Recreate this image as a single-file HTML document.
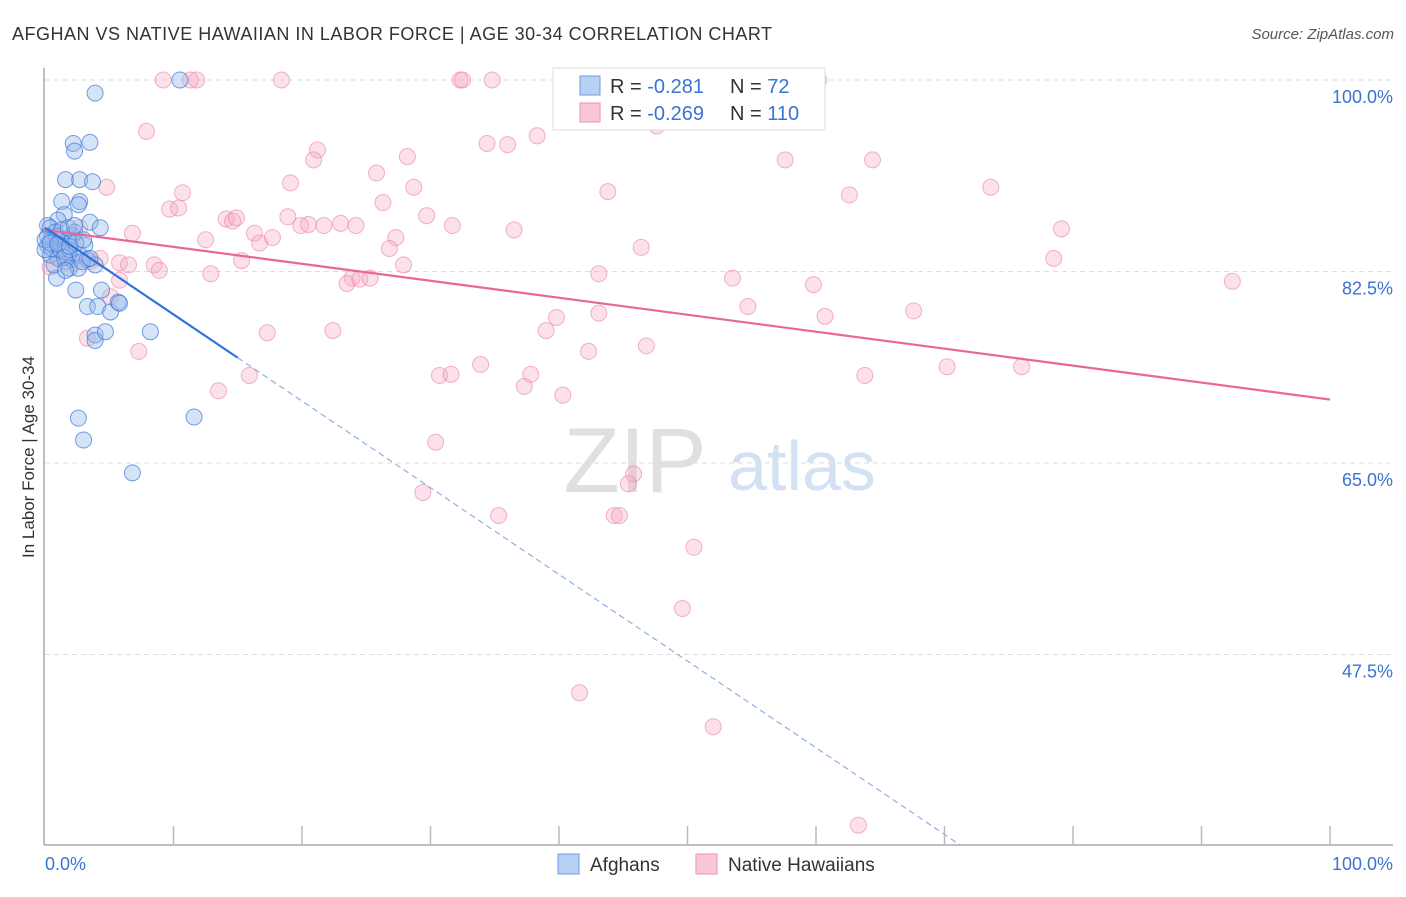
<!DOCTYPE html>
<html><head><meta charset="utf-8"><style>
body{margin:0;background:#fff;font-family:"Liberation Sans",sans-serif;}
svg text{font-family:"Liberation Sans",sans-serif;}
</style></head><body>
<svg id="chart" width="1406" height="892" xmlns="http://www.w3.org/2000/svg">
<text x="12" y="40" font-size="18" fill="#333" textLength="760" lengthAdjust="spacing">AFGHAN VS NATIVE HAWAIIAN IN LABOR FORCE | AGE 30-34 CORRELATION CHART</text>
<text x="1394" y="39" font-size="15" fill="#555" font-style="italic" text-anchor="end">Source: ZipAtlas.com</text>
<text x="34" y="457" font-size="17" fill="#333" text-anchor="middle" transform="rotate(-90 34 457)">In Labor Force | Age 30-34</text>
<g>
<text x="635" y="492" font-size="92" fill="#e0e0e0" font-family="Liberation Serif" text-anchor="middle">ZIP</text>
<text x="802" y="490" font-size="70" fill="#d3e2f3" text-anchor="middle">atlas</text>
</g>
<g id="grid"></g>
<g id="axes"></g>
<g id="pink"></g>
<g id="blue"></g>
<g id="lines"></g>
<g>
<rect x="553" y="68" width="272" height="62" fill="#fff" stroke="#ddd"/>
<rect x="580" y="76" width="20" height="19" fill="#b8d0f4" stroke="#6f9be0"/>
<rect x="580" y="103" width="20" height="19" fill="#f9c6d6" stroke="#ee93b0"/>
<text x="610" y="93" font-size="20" fill="#333">R = <tspan fill="#3b73d4"> -0.281</tspan></text>
<text x="730" y="93" font-size="20" fill="#333">N = <tspan fill="#3b73d4"> 72</tspan></text>
<text x="610" y="120" font-size="20" fill="#333">R = <tspan fill="#3b73d4">-0.269</tspan></text>
<text x="730" y="120" font-size="20" fill="#333">N = <tspan fill="#3b73d4">110</tspan></text>
</g>
<g>
<rect x="558" y="854" width="21" height="20" fill="#b8d0f4" stroke="#6f9be0"/>
<text x="590" y="871" font-size="19" fill="#333">Afghans</text>
<rect x="696" y="854" width="21" height="20" fill="#f9c6d6" stroke="#ee93b0"/>
<text x="728" y="871" font-size="19" fill="#333">Native Hawaiians</text>
</g>
</svg>
<script>
const yTicks=[100,82.5,65,47.5];
const yTickLabels=["100.0%","82.5%","65.0%","47.5%"];
const xTicks=[0,10,20,30,40,50,60,70,80,90,100];
const pinkX=[9.2,11.8,11.3,18.4,32.3,32.5,34.8,60.2,7.9,21.2,20.9,34.4,36.0,38.3,47.6,28.2,25.8,57.6,64.4,4.8,10.7,19.1,28.7,43.8,62.6,73.6,9.7,10.4,26.3,14.1,14.6,14.9,18.9,19.9,20.5,21.7,23.0,24.2,29.7,31.7,36.5,79.1,6.8,12.5,16.3,16.7,17.7,27.3,26.8,46.4,78.5,2.7,5.8,6.5,8.5,8.9,12.9,15.3,27.9,23.9,23.5,24.5,25.3,43.1,53.5,59.8,92.4,5.8,5.1,54.7,67.6,60.7,39.8,43.1,39.0,17.3,22.4,3.3,7.3,42.3,46.8,33.9,30.7,31.6,37.3,37.8,40.3,63.8,70.2,76.0,13.5,15.9,30.4,45.8,45.4,29.4,35.3,44.3,44.7,50.5,49.6,41.6,52.0,63.3,0.4,1.2,2.3,3.5,4.3];
const pinkY=[100,100,100,100,100,100,100,100,95.3,93.6,92.7,94.2,94.1,94.9,95.8,93.0,91.5,92.7,92.7,90.2,89.7,90.6,90.2,89.8,89.5,90.2,88.2,88.3,88.8,87.3,87.1,87.4,87.5,86.7,86.8,86.7,86.9,86.7,87.6,86.7,86.3,86.4,86.0,85.4,86.0,85.1,85.6,85.6,84.6,84.7,83.7,86.5,83.3,83.1,83.1,82.6,82.3,83.5,83.1,81.9,81.4,81.8,81.9,82.3,81.9,81.3,81.6,81.7,80.2,79.3,78.9,78.4,78.3,78.7,77.1,76.9,77.1,76.4,75.2,75.2,75.7,74.0,73.0,73.1,72.0,73.1,71.2,73.0,73.8,73.8,71.6,73.0,66.9,64.0,63.1,62.3,60.2,60.2,60.2,57.3,51.7,44.0,40.9,31.9,82.9,83.6,83.3,83.4,83.7];
const blueX=[10.5,3.9,2.2,3.5,2.3,1.6,2.7,3.7,1.3,2.7,2.6,1.5,1.0,3.5,4.3,0.2,0.4,0.8,0.5,1.2,1.8,2.1,2.3,3.1,1.3,0.4,1.0,1.6,2.1,2.7,3.3,3.9,1.9,2.6,0.9,2.4,4.4,3.3,4.1,5.1,5.7,5.8,3.9,3.9,4.7,8.2,2.6,11.6,3.0,6.8,0.2,0.5,0.0,1.2,1.6,1.9,0.2,0.9,1.3,1.8,2.3,0.0,0.4,1.0,1.5,2.9,3.5,1.9,2.4,3.0,0.7,1.6];
const blueY=[100,98.8,94.2,94.3,93.5,90.9,90.9,90.7,88.9,88.9,88.6,87.7,87.2,87.0,86.5,86.7,86.5,86.1,85.4,85.2,85.4,85.8,86.1,84.9,84.7,84.0,83.7,83.4,83.6,84.0,83.6,83.1,82.8,82.8,81.9,80.8,80.8,79.3,79.3,78.8,79.7,79.6,76.7,76.2,77.0,77.0,69.1,69.2,67.1,64.1,84.9,84.6,84.5,84.5,84.3,84.5,85.7,85.7,86.3,86.5,86.7,85.4,85.1,85.0,83.8,83.4,83.7,84.8,85.1,85.4,83.1,82.6];
const pinkTrend=[86.3,70.8];
const blueTrend=[86.5,-0.792];
const blueSolidEnd=15;

const NS="http://www.w3.org/2000/svg";
const X0=45,X1=1330,YTOP=80,PXPER=10.943;
const sx=v=>X0+(X1-X0)*v/100;
const sy=v=>YTOP+(100-v)*PXPER;
function mk(tag,attrs,parent){const e=document.createElementNS(NS,tag);for(const k in attrs)e.setAttribute(k,attrs[k]);parent.appendChild(e);return e;}
const grid=document.getElementById('grid'),axes=document.getElementById('axes');
yTicks.forEach((t,i)=>{
  const l=mk('line',{x1:45,x2:1393,y1:sy(t),y2:sy(t),stroke:'#ddd','stroke-dasharray':'5,4'},grid);
  
  
  const tx=mk('text',{x:1393,y:sy(t)+23,'font-size':18,fill:'#3b73d4','text-anchor':'end'},grid);
  tx.textContent=yTickLabels[i];
  
  
});
const la=mk('line',{x1:44,x2:44,y1:68,y2:845,stroke:'#aaa','stroke-width':1.5},axes);


const ba=mk('line',{x1:44,x2:1393,y1:845,y2:845,stroke:'#aaa','stroke-width':1.5},axes);


xTicks.forEach(t=>{if(t===0)return;
  const l=mk('line',{x1:sx(t),x2:sx(t),y1:826,y2:845,stroke:'#bbb','stroke-width':1.5},axes);
  
  
});
const x0l=mk('text',{x:45,y:870,'font-size':18,fill:'#3b73d4'},axes);x0l.textContent='0.0%';


const x1l=mk('text',{x:1393,y:870,'font-size':18,fill:'#3b73d4','text-anchor':'end'},axes);x1l.textContent='100.0%';


const pg=document.getElementById('pink');
pinkX.forEach((x,i)=>{
  const c=mk('circle',{cx:sx(x),cy:sy(pinkY[i]),r:8,fill:'rgba(246,170,195,0.35)',stroke:'rgba(232,130,165,0.6)','stroke-width':1},pg);
  
  
});
const bg=document.getElementById('blue');
blueX.forEach((x,i)=>{
  const c=mk('circle',{cx:sx(x),cy:sy(blueY[i]),r:8,fill:'rgba(150,185,235,0.4)',stroke:'rgba(60,120,215,0.7)','stroke-width':1},bg);
  
  
});
const lg=document.getElementById('lines');
const pl=mk('line',{x1:sx(0),y1:sy(pinkTrend[0]),x2:sx(100),y2:sy(pinkTrend[1]),stroke:'#e8679a','stroke-width':2.2},lg);


const by=x=>blueTrend[0]+blueTrend[1]*x;
const bs=mk('line',{x1:sx(0),y1:sy(by(0)),x2:sx(blueSolidEnd),y2:sy(by(blueSolidEnd)),stroke:'#2f72d8','stroke-width':2.2},lg);


const yEnd=30.1, xEnd=(yEnd-blueTrend[0])/blueTrend[1];
const bd=mk('line',{x1:sx(blueSolidEnd),y1:sy(by(blueSolidEnd)),x2:sx(xEnd),y2:sy(yEnd),stroke:'#8fb0e0','stroke-width':1.2,'stroke-dasharray':'6,4'},lg);


</script>
</body></html>
